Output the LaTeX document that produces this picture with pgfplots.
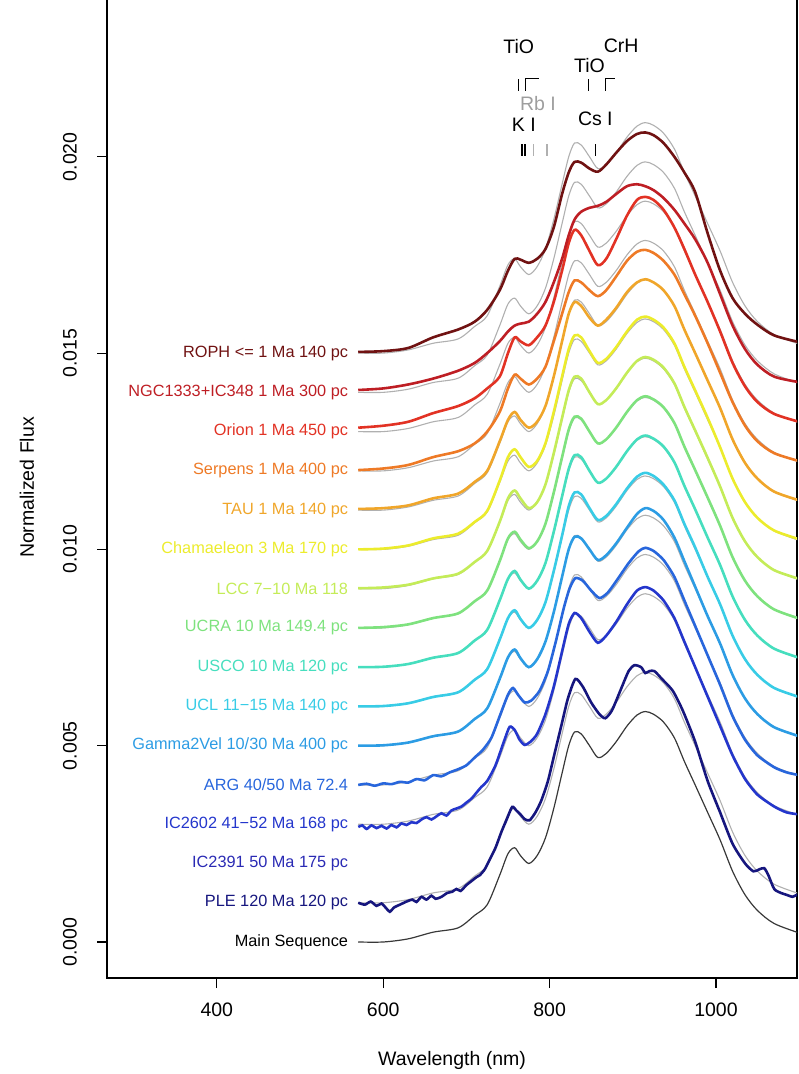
\documentclass[border=0pt]{standalone}
\usepackage{pgfplots}
\pgfplotsset{compat=1.18}
\usepackage{pgfplotstable}
\usepackage{fontspec}
\setmainfont{Liberation Sans}

\definecolor{cROPH}{HTML}{701212}
\definecolor{cNGC}{HTML}{BE1E24}
\definecolor{cORI}{HTML}{E23224}
\definecolor{cSERP}{HTML}{EE7A26}
\definecolor{cTAU}{HTML}{F0A62A}
\definecolor{cCHAM}{HTML}{ECEC2C}
\definecolor{cLCC}{HTML}{C4EC58}
\definecolor{cUCRA}{HTML}{7EE27E}
\definecolor{cUSCO}{HTML}{46DEBE}
\definecolor{cUCL}{HTML}{38CCE6}
\definecolor{cGAM}{HTML}{2C9CE4}
\definecolor{cARG}{HTML}{2866DC}
\definecolor{cIC}{HTML}{2436CC}
\definecolor{cICB}{HTML}{2A2AB4}
\definecolor{cPLE}{HTML}{16167E}
\definecolor{cMS}{HTML}{383838}
\definecolor{cGR}{HTML}{B0B0B0}

% relative spectra (units: normalized flux), offsets added when plotted
\pgfplotstableread{
x     ms      roph    ngc     ori     serp    tau     cham    lcc     ucra    usco    ucl     gam
570   0.0e-4  0.3e-4  0.6e-4  1.0e-4  0.2e-4  0.3e-4  0.0e-4  0.1e-4  0.0e-4  0.0e-4  0.0e-4  0.0e-4
600   0.0e-4  0.5e-4  1.0e-4  1.5e-4  0.6e-4  0.5e-4  0.2e-4  0.3e-4  0.2e-4  0.1e-4  0.1e-4  0.1e-4
630   0.8e-4  1.3e-4  2.0e-4  2.5e-4  1.5e-4  1.2e-4  1.0e-4  1.0e-4  0.9e-4  0.8e-4  0.8e-4  0.8e-4
660   2.5e-4  4.0e-4  3.5e-4  4.7e-4  3.5e-4  3.0e-4  2.8e-4  2.6e-4  2.5e-4  2.4e-4  2.4e-4  2.4e-4
690   3.6e-4  6.0e-4  5.5e-4  6.5e-4  5.0e-4  4.2e-4  4.0e-4  3.8e-4  3.7e-4  3.6e-4  3.6e-4  3.6e-4
710   6.8e-4  8.0e-4  7.5e-4  8.5e-4  7.0e-4  7.2e-4  7.0e-4  6.8e-4  6.8e-4  6.8e-4  6.8e-4  6.8e-4
725   9.5e-4  11e-4   10e-4   11e-4   10e-4   10e-4   9.8e-4  9.6e-4  9.5e-4  9.5e-4  9.5e-4  9.5e-4
740   17e-4   16e-4   13e-4   14e-4   15e-4   17.5e-4 17.5e-4 17e-4   17e-4   17e-4   17e-4   17e-4
750   22.5e-4 21e-4   15.5e-4 20e-4   21e-4   23e-4   23.5e-4 23e-4   22.8e-4 22.5e-4 22.5e-4 22.5e-4
758   24e-4   24e-4   17e-4   24e-4   24.5e-4 25e-4   25.5e-4 25e-4   24.5e-4 24.5e-4 24.5e-4 24.5e-4
765   22e-4   23.8e-4 17.5e-4 23e-4   23.5e-4 23e-4   23.5e-4 23e-4   22.5e-4 22.3e-4 22.3e-4 22.3e-4
775   20e-4   23e-4   18e-4   22e-4   22e-4   21e-4   21e-4   20.5e-4 20.3e-4 20e-4   20e-4   20e-4
785   22e-4   24e-4   20e-4   24e-4   23.5e-4 22.5e-4 22.5e-4 22e-4   22e-4   22e-4   22e-4   22e-4
795   26.5e-4 26.5e-4 23e-4   27e-4   26.5e-4 26.5e-4 27e-4   26.5e-4 26.5e-4 26.5e-4 26.5e-4 26.5e-4
805   34e-4   32e-4   28e-4   33e-4   33e-4   34e-4   35e-4   34.5e-4 34.5e-4 34.5e-4 34.5e-4 34e-4
815   43e-4   40.5e-4 34e-4   41e-4   40e-4   43e-4   44e-4   43.5e-4 43.5e-4 43.5e-4 43.5e-4 43e-4
823   50e-4   46e-4   40e-4   48e-4   45.5e-4 50e-4   51e-4   50.5e-4 50.5e-4 50.5e-4 51e-4   50e-4
830   53.5e-4 48.7e-4 44e-4   51.4e-4 48.5e-4 53e-4   54.5e-4 54e-4   53.8e-4 54e-4   54.5e-4 53.2e-4
838   53e-4   48.5e-4 46e-4   50e-4   48e-4   52e-4   54e-4   53.5e-4 53.3e-4 53.5e-4 54e-4   52.8e-4
848   50e-4   47e-4   47e-4   46e-4   46e-4   49e-4   50.5e-4 50e-4   50e-4   50e-4   50.5e-4 50e-4
858   47e-4   46.2e-4 47.5e-4 42.4e-4 44.5e-4 47e-4   47.5e-4 47e-4   47e-4   47e-4   47.5e-4 47.3e-4
868   48e-4   48e-4   48.5e-4 44e-4   46e-4   48.5e-4 48.5e-4 48e-4   48e-4   48e-4   48.5e-4 48.5e-4
880   51e-4   51e-4   50.5e-4 49e-4   49.5e-4 51.5e-4 51.5e-4 51e-4   51e-4   51e-4   51.5e-4 51.5e-4
893   55e-4   54e-4   52.5e-4 55e-4   53.5e-4 55.5e-4 55.5e-4 55e-4   55e-4   55e-4   55.5e-4 55.5e-4
905   57.8e-4 55.8e-4 53e-4   59e-4   55.8e-4 58e-4   58.5e-4 58e-4   58e-4   58e-4   58.5e-4 59e-4
915   58.7e-4 56.2e-4 52.5e-4 59.8e-4 56.3e-4 58.8e-4 59.3e-4 59e-4   59e-4   59e-4   59.5e-4 60.5e-4
925   58e-4   55.5e-4 51.5e-4 59e-4   55.5e-4 58e-4   58.5e-4 58.3e-4 58.2e-4 58.2e-4 58.7e-4 59.8e-4
937   56e-4   53.5e-4 49.5e-4 56.5e-4 53.5e-4 56e-4   56.5e-4 56.3e-4 56.2e-4 56.2e-4 56.5e-4 57.5e-4
950   52e-4   50e-4   46.5e-4 52e-4   50e-4   52e-4   52.5e-4 52.3e-4 52.2e-4 52.2e-4 52.5e-4 53e-4
962   46e-4   46e-4   43e-4   46.5e-4 45e-4   46e-4   46.5e-4 46.3e-4 46.2e-4 46.2e-4 46.5e-4 47e-4
975   40e-4   41e-4   39e-4   40e-4   39.5e-4 40e-4   40.5e-4 40.3e-4 40.2e-4 40.2e-4 40.5e-4 40.5e-4
990   33e-4   30.5e-4 33e-4   33e-4   32.5e-4 33e-4   33.5e-4 33.3e-4 33.2e-4 33e-4   33e-4   33e-4
1005  26e-4   21e-4   25e-4   25.5e-4 25e-4   26e-4   26e-4   26e-4   26e-4   26e-4   26e-4   26e-4
1020  18e-4   14e-4   17e-4   17.5e-4 17.5e-4 18e-4   18e-4   18e-4   18e-4   18e-4   18e-4   18e-4
1035  12e-4   10e-4   11e-4   11.5e-4 11.5e-4 12e-4   12e-4   12e-4   12e-4   12e-4   12e-4   12e-4
1050  8.0e-4  7.2e-4  7.0e-4  7.5e-4  7.5e-4  8.0e-4  8.0e-4  8.0e-4  8.0e-4  8.0e-4  8.0e-4  8.0e-4
1070  4.7e-4  4.5e-4  4.0e-4  4.5e-4  4.5e-4  4.7e-4  4.8e-4  4.7e-4  4.7e-4  4.7e-4  4.7e-4  4.7e-4
1100  2.3e-4  2.8e-4  2.6e-4  2.5e-4  2.5e-4  2.5e-4  2.6e-4  2.5e-4  2.4e-4  2.4e-4  2.4e-4  2.4e-4
}\grid

\pgfplotstableread{
x     y
570   0.0e-4
580   0.3e-4
590  -0.2e-4
600   0.4e-4
610   0.2e-4
620   0.8e-4
630   0.6e-4
640   1.5e-4
650   1.2e-4
660   2.5e-4
670   2.2e-4
680   3.2e-4
690   4.0e-4
700   5.0e-4
710   7.0e-4
720   9.0e-4
730   12e-4
740   17.5e-4
750   23e-4
756   24.7e-4
762   23e-4
770   21e-4
778   21.5e-4
788   24e-4
798   29e-4
808   37e-4
817   45e-4
824   50e-4
831   52.7e-4
840   52e-4
850   49.5e-4
860   47.6e-4
870   49e-4
882   52.5e-4
895   56.5e-4
907   59.5e-4
915   60.4e-4
925   59.6e-4
937   57.3e-4
950   53e-4
962   47e-4
975   40.5e-4
990   33e-4
1005  25.5e-4
1020  17.5e-4
1035  11.5e-4
1050  7.5e-4
1070  4.5e-4
1085  3.2e-4
1100  2.5e-4
}\argtab

\pgfplotstableread{
x     y
570  -0.7e-4
575  -0.3e-4
580  -1.2e-4
586  -0.3e-4
592  -1.0e-4
598  -0.4e-4
604  -1.1e-4
610  -0.2e-4
616  -0.8e-4
622   0.2e-4
628  -0.2e-4
634   0.5e-4
640   0.3e-4
646   1.2e-4
652   1.8e-4
658   1.2e-4
664   2.0e-4
670   2.8e-4
676   2.2e-4
682   3.5e-4
688   4.0e-4
694   4.5e-4
700   5.5e-4
706   6.5e-4
712   8.0e-4
718   9.5e-4
725   11e-4
735   15e-4
745   21e-4
752   24.8e-4
758   24e-4
764   21.5e-4
770   20.2e-4
777   21e-4
785   23e-4
795   28e-4
805   35e-4
815   44e-4
823   51e-4
830   53.8e-4
838   52.5e-4
848   49e-4
858   46.2e-4
868   48e-4
880   51.5e-4
893   56e-4
905   59.5e-4
915   60.4e-4
925   59.5e-4
937   57e-4
950   52.5e-4
962   46.5e-4
975   40e-4
990   32.5e-4
1005  25e-4
1020  17.5e-4
1035  11.5e-4
1050  7.5e-4
1070  4.5e-4
1085  3.0e-4
1100  2.5e-4
}\ictab

\pgfplotstableread{
x     y
570   0.0e-4
578  -0.5e-4
585   0.3e-4
592  -0.8e-4
598  -0.2e-4
604  -1.5e-4
608  -2.3e-4
613  -1.2e-4
620  -0.5e-4
628   0.3e-4
635   0.8e-4
640   0.2e-4
646   1.5e-4
652   0.8e-4
658   1.8e-4
663   1.0e-4
670   1.5e-4
677   2.5e-4
683   2.8e-4
688   3.5e-4
693   3.0e-4
700   4.5e-4
706   5.5e-4
712   6.5e-4
716   7.0e-4
722   8.5e-4
728   11e-4
735   14e-4
742   18e-4
748   21e-4
755   24.4e-4
760   23.5e-4
765   22.5e-4
770   21.3e-4
776   21e-4
783   23e-4
790   26e-4
798   31e-4
806   38e-4
814   45e-4
822   52e-4
831   57e-4
840   55e-4
850   51e-4
860   48e-4
867   47e-4
875   49e-4
885   54e-4
895   59e-4
902   60.5e-4
910   60e-4
915   58.5e-4
920   59e-4
926   59e-4
935   57e-4
948   54e-4
960   49e-4
975   41e-4
990   31e-4
1005  23e-4
1020  15e-4
1035  10e-4
1045  8.0e-4
1052  8.5e-4
1058  8.8e-4
1063  7.0e-4
1070  3.5e-4
1078  2.5e-4
1085  2.0e-4
1092  1.5e-4
1097  2.0e-4
1100  1.5e-4
}\pletab

\newcommand{\axfont}{\fontsize{19.5}{23}\selectfont}
\newcommand{\lblfont}{\fontsize{16.3}{19}\selectfont}
\newcommand{\annfont}{\fontsize{19.5}{23}\selectfont}

\newcommand{\grayline}[1]{\addplot[cGR, line width=1.1pt, smooth, tension=0.5] table[x=x, y expr=\thisrow{ms}+#1] {\grid};}
\newcommand{\gridline}[3]{\addplot[#3, line width=2.6pt, smooth, tension=0.5] table[x=x, y expr=\thisrow{#1}+#2] {\grid};}

\begin{document}
\begin{tikzpicture}[x=1pt,y=1pt]
\useasboundingbox (0,0) rectangle (799,1074);
\begin{axis}[
  at={(107pt,96pt)}, anchor=south west,
  width=690pt, height=981pt, scale only axis,
  xmin=268, xmax=1097.4,
  ymin=-0.000917, ymax=0.02407,
  xtick={400,600,800,1000}, xticklabels={400,600,800,1000},
  ytick={0,0.005,0.01,0.015,0.02},
  yticklabels={0.000,0.005,0.010,0.015,0.020},
  scaled y ticks=false,
  xtick pos=lower, ytick pos=left,
  tick align=outside, major tick length=10pt,
  tick style={black, line width=1.1pt},
  axis line style={black, line width=1.3pt},
  tick label style={font=\axfont, black},
  xticklabel style={anchor=center, yshift=-22pt},
  yticklabel style={rotate=90, anchor=center, yshift=27pt},
  xlabel={Wavelength (nm)}, ylabel={Normalized Flux},
  label style={font=\axfont},
  xlabel style={at={(axis description cs:0.5,-0.0836)}, anchor=center},
  ylabel style={at={(axis description cs:-0.1159,0.5)}, anchor=center},
  clip=true,
]
% Main sequence
\addplot[cMS, line width=1.2pt, smooth, tension=0.5] table[x=x, y=ms] {\grid};
% PLE
\grayline{0.001}
\addplot[cPLE, line width=2.6pt, smooth, tension=0.4] table[x=x, y expr=\thisrow{y}+0.001] {\pletab};
% IC2602
\grayline{0.003}
\addplot[cIC, line width=2.6pt, smooth, tension=0.4] table[x=x, y expr=\thisrow{y}+0.003] {\ictab};
% ARG
\grayline{0.004}
\addplot[cARG, line width=2.6pt, smooth, tension=0.4] table[x=x, y expr=\thisrow{y}+0.004] {\argtab};
\grayline{0.005}  \gridline{gam}{0.005}{cGAM}
\grayline{0.006}  \gridline{ucl}{0.006}{cUCL}
\grayline{0.007}  \gridline{usco}{0.007}{cUSCO}
\grayline{0.008}  \gridline{ucra}{0.008}{cUCRA}
\grayline{0.009}  \gridline{lcc}{0.009}{cLCC}
\grayline{0.010}  \gridline{cham}{0.010}{cCHAM}
\grayline{0.011}  \gridline{tau}{0.011}{cTAU}
\grayline{0.012}  \gridline{serp}{0.012}{cSERP}
\grayline{0.013}  \gridline{ori}{0.013}{cORI}
\grayline{0.014}  \gridline{ngc}{0.014}{cNGC}
\grayline{0.015}  \gridline{roph}{0.015}{cROPH}

% series labels
\begin{scope}[every node/.style={anchor=east, font=\lblfont, inner sep=0pt}]
\node[text=cROPH] at (axis cs:558,0.015) {ROPH <= 1 Ma 140 pc};
\node[text=cNGC]  at (axis cs:558,0.014) {NGC1333+IC348 1 Ma 300 pc};
\node[text=cORI]  at (axis cs:558,0.013) {Orion 1 Ma 450 pc};
\node[text=cSERP] at (axis cs:558,0.012) {Serpens 1 Ma 400 pc};
\node[text=cTAU]  at (axis cs:558,0.011) {TAU 1 Ma 140 pc};
\node[text=cCHAM] at (axis cs:558,0.010) {Chamaeleon 3 Ma 170 pc};
\node[text=cLCC]  at (axis cs:558,0.009) {LCC 7−10 Ma 118};
\node[text=cUCRA] at (axis cs:558,0.008) {UCRA 10 Ma 149.4 pc};
\node[text=cUSCO] at (axis cs:558,0.007) {USCO 10 Ma 120 pc};
\node[text=cUCL]  at (axis cs:558,0.006) {UCL 11−15 Ma 140 pc};
\node[text=cGAM]  at (axis cs:558,0.005) {Gamma2Vel 10/30 Ma 400 pc};
\node[text=cARG]  at (axis cs:558,0.004) {ARG 40/50 Ma 72.4};
\node[text=cIC]   at (axis cs:558,0.003) {IC2602 41−52 Ma 168 pc};
\node[text=cICB]  at (axis cs:558,0.002) {IC2391 50 Ma 175 pc};
\node[text=cPLE]  at (axis cs:558,0.001) {PLE 120 Ma 120 pc};
\node[text=black] at (axis cs:558,0.000) {Main Sequence};
\end{scope}

% line identifications
\begin{scope}[every node/.style={font=\annfont, inner sep=0pt}]
\node[black] at (axis cs:763,0.02282) {TiO};
\node[black] at (axis cs:886,0.02282) {CrH};
\node[black] at (axis cs:848,0.02233) {TiO};
\node[cGR!90!black] at (axis cs:786,0.02136) {Rb I};
\node[black] at (axis cs:769,0.02082) {K I};
\node[black] at (axis cs:855,0.02098) {Cs I};
\end{scope}
\draw[black, line width=1.2pt] (axis cs:763,0.02168) -- (axis cs:763,0.02199);
\draw[black, line width=1.2pt] (axis cs:771,0.02168) -- (axis cs:771,0.02199) -- (axis cs:787,0.02199);
\draw[black, line width=1.2pt] (axis cs:847,0.02168) -- (axis cs:847,0.02199);
\draw[black, line width=1.2pt] (axis cs:867,0.02168) -- (axis cs:867,0.02199) -- (axis cs:879,0.02199);
\draw[black, line width=1.4pt] (axis cs:767,0.02002) -- (axis cs:767,0.02032);
\draw[black, line width=1.4pt] (axis cs:770.5,0.02002) -- (axis cs:770.5,0.02032);
\draw[cGR, line width=1.2pt] (axis cs:781,0.02002) -- (axis cs:781,0.02032);
\draw[cGR, line width=1.2pt] (axis cs:797,0.02002) -- (axis cs:797,0.02032);
\draw[black, line width=1.2pt] (axis cs:855,0.02002) -- (axis cs:855,0.02032);
\end{axis}
\end{tikzpicture}
\end{document}
